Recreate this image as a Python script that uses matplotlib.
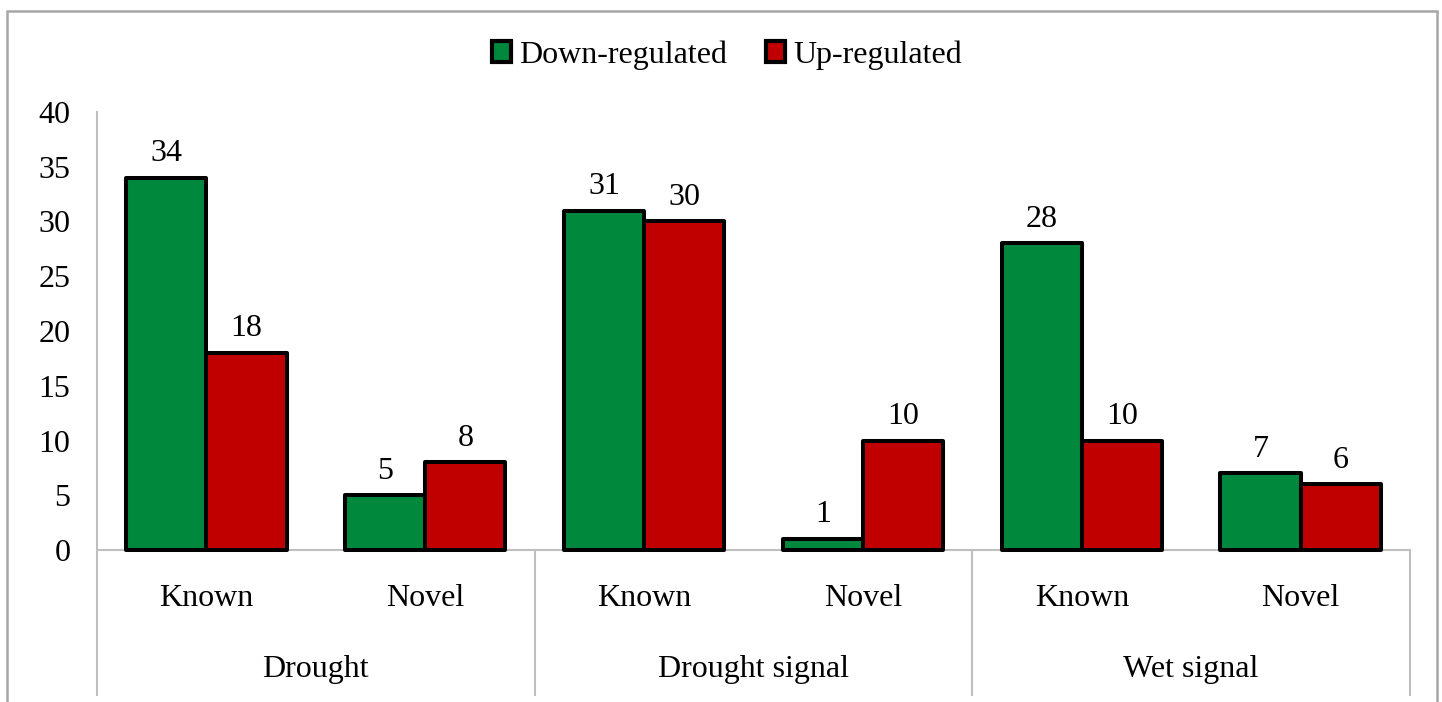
import matplotlib
matplotlib.use('Agg')
import matplotlib.pyplot as plt
from matplotlib.patches import Patch, Rectangle
import numpy as np

plt.rcParams['font.family'] = ['Liberation Serif', 'DejaVu Serif']

groups = ['Drought', 'Drought signal', 'Wet signal']
subcats = ['Known', 'Novel', 'Known', 'Novel', 'Known', 'Novel']
down_reg = [34, 5, 31, 1, 28, 7]
up_reg = [18, 8, 30, 10, 10, 6]

GREEN = '#00893D'
RED = '#C00000'
GRID = '#BFBFBF'
FS = 23

W, H = 1442, 702
fig = plt.figure(figsize=(W / 100, H / 100), dpi=100)

# plot area in pixel terms: x 97..1410, y 0 at 550, 40 at 112
x0, x1, y0, y1 = 97, 1410, 550, 112
ax = fig.add_axes([x0 / W, (H - y0) / H, (x1 - x0) / W, (y0 - y1) / H])

# outer frame
fig.patches.append(Rectangle((7 / W, -0.05), (1437 - 7) / W, 1.05 - 11 / H,
                             transform=fig.transFigure, fill=False,
                             edgecolor='#A6A6A6', lw=1.8, zorder=0))

n = len(subcats)
centers = np.arange(n) + 0.5
bw = 0.366

for xs, vals, col in [(centers - bw / 2, down_reg, GREEN),
                      (centers + bw / 2, up_reg, RED)]:
    bars = ax.bar(xs, vals, width=bw, color=col, edgecolor='black',
                  linewidth=2.9, zorder=3, clip_on=False)
    for b, v in zip(bars, vals):
        b.set_joinstyle('round')
        ax.annotate(str(v), (b.get_x() + b.get_width() / 2, v),
                    xytext=(0, 12), textcoords='offset points',
                    ha='center', va='baseline', fontsize=FS)

ax.set_xlim(0, n)
ax.set_ylim(0, 40)
ax.set_yticks(range(0, 41, 5))
ax.tick_params(axis='y', length=0, pad=19, labelsize=FS)
ax.set_xticks([])
for s in ax.spines.values():
    s.set_visible(False)

xt = ax.get_xaxis_transform()
ax.plot([0, n], [0, 0], color=GRID, lw=1.5, transform=xt, zorder=2, clip_on=False)

# left axis and group separators running down through the label rows
low = -(695 - y0) / (y0 - y1)
ax.plot([0, 0], [1.0, low], color=GRID, lw=1.5, transform=xt, clip_on=False)
for g in range(1, len(groups) + 1):
    ax.plot([2 * g, 2 * g], [0, low], color=GRID, lw=1.5, transform=xt,
            clip_on=False)

sub_y = -(598 - y0) / (y0 - y1)
grp_y = -(670 - y0) / (y0 - y1)
for c, lab in zip(centers, subcats):
    ax.text(c, sub_y, lab, transform=xt, ha='center', va='center', fontsize=FS)
for g, lab in enumerate(groups):
    ax.text(2 * g + 1, grp_y, lab, transform=xt, ha='center', va='center',
            fontsize=FS)

handles = [Patch(facecolor=GREEN, edgecolor='black', lw=3, label='Down-regulated'),
           Patch(facecolor=RED, edgecolor='black', lw=3, label='Up-regulated')]
fig.legend(handles=handles, loc='center', bbox_to_anchor=(727 / W, 1 - 55 / H),
           ncol=2, frameon=False, fontsize=FS, handlelength=0.6,
           handleheight=0.6, handletextpad=0.25, columnspacing=1.2)

fig.savefig('out.png', dpi=100)
